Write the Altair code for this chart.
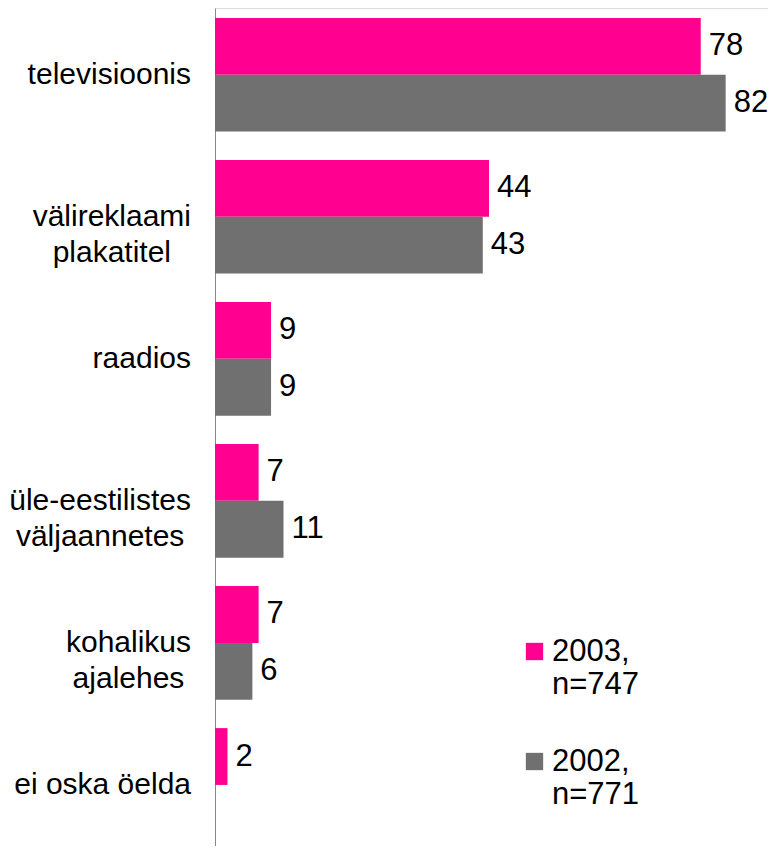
import altair as alt
import pandas as pd

# ---- data ----
categories = ["televisioonis", "välireklaami plakatitel", "raadios",
              "üle-eestilistes väljaannetes", "kohalikus ajalehes", "ei oska öelda"]
category_lines = [["televisioonis"], ["välireklaami", "plakatitel"], ["raadios"],
                  ["üle-eestilistes", "väljaannetes"], ["kohalikus", "ajalehes"], ["ei oska öelda"]]
series = ["2003, n=747", "2002, n=771"]
values_2003 = [78, 44, 9, 7, 7, 2]
values_2002 = [82, 43, 9, 11, 6, None]
colors = ["#FF0090", "#707070"]

FONT = "Liberation Sans, Arial, sans-serif"
FS = 31        # values and legend
FS_LAB = 30    # category labels
LH = 36

rows = []
for c, v3, v2 in zip(categories, values_2003, values_2002):
    if v3 is not None:
        rows.append({"cat": c, "series": series[0], "value": v3})
    if v2 is not None:
        rows.append({"cat": c, "series": series[1], "value": v2})
df = pd.DataFrame(rows)

# approximate Arial advance widths (em) to center multi-line labels like the original
ARIAL = {"a": .556, "d": .556, "e": .556, "h": .556, "i": .222, "j": .222, "k": .5,
         "l": .222, "m": .833, "n": .556, "o": .556, "p": .556, "r": .333, "s": .5,
         "t": .278, "u": .556, "v": .5, "ä": .556, "ö": .556, "ü": .556, "-": .333, " ": .278}


def text_w(s):
    return sum(ARIAL.get(ch, .556) for ch in s) * FS_LAB


y_enc = alt.Y("cat:N", sort=categories,
              scale=alt.Scale(paddingInner=0.2, paddingOuter=0.05, align=0.7),
              axis=alt.Axis(labels=False, ticks=False, title=None, grid=False,
                            domainColor="#888888", domainWidth=1))
x_scale = alt.Scale(domain=[0, 88.8], nice=False, zero=True)

bars = alt.Chart(df).mark_bar().encode(
    y=y_enc,
    yOffset=alt.YOffset("series:N", sort=series),
    x=alt.X("value:Q", scale=x_scale, axis=None),
    color=alt.Color("series:N",
                    scale=alt.Scale(domain=series, range=colors),
                    legend=alt.Legend(
                        orient="none", legendX=304, legendY=628, title=None,
                        direction="vertical",
                        symbolType="square", symbolSize=300, symbolStrokeWidth=0,
                        labelFont=FONT, labelFontSize=FS, labelColor="#000000",
                        labelBaseline="middle", labelOffset=2, padding=0,
                        rowPadding=45, labelLimit=300,
                        labelExpr="split(datum.label, ' ')")),
)

value_text = alt.Chart(df).mark_text(
    align="left", baseline="middle", dx=8, font=FONT, fontSize=FS, color="#000000"
).encode(
    y=y_enc,
    yOffset=alt.YOffset("series:N", sort=series),
    x=alt.X("value:Q", scale=x_scale, axis=None),
    text=alt.Text("value:Q"),
)

label_layers = []
for c, lines in zip(categories, category_lines):
    maxw = max(text_w(s) for s in lines)
    ldf = pd.DataFrame([{"cat": c, "text": "\n".join(lines)}])
    label_layers.append(
        alt.Chart(ldf).mark_text(
            align="center", baseline="middle", lineBreak="\n", lineHeight=LH,
            dx=-(24 + maxw / 2), font=FONT, fontSize=FS_LAB, color="#000000"
        ).encode(
            y=y_enc,
            x=alt.X(datum=0, scale=x_scale, axis=None),
            text="text:N",
        )
    )

chart = alt.layer(bars, value_text, *label_layers).properties(
    width=553, height=838,
    autosize=alt.AutoSizeParams(type="none"),
    padding={"left": 207, "top": 0, "right": 0, "bottom": 0},
).configure_view(stroke=None).configure(font=FONT)

chart.save("out.html", embed_options={"renderer": "svg", "actions": False})
